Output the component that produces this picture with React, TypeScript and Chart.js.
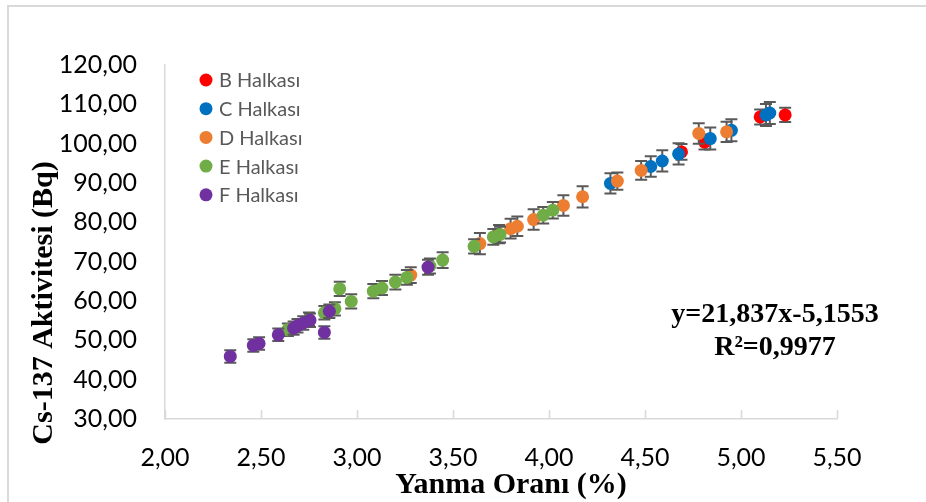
import React, { useEffect, useRef } from "react";
import { Chart, registerables } from "chart.js";

Chart.register(...registerables);

const seriesNames = ["B Halkası", "C Halkası", "D Halkası", "E Halkası", "F Halkası"];
const seriesColors = ["#FF0000", "#0070C0", "#ED7D31", "#70AD47", "#7030A0"];

const bX = [4.69, 4.81, 5.1, 5.23];
const bY = [97.9, 100.4, 106.8, 107.3];
const bErr = [2.0, 1.9, 1.9, 1.8];

const cX = [4.32, 4.53, 4.59, 4.675, 4.84, 4.95, 5.13, 5.15];
const cY = [89.9, 94.2, 95.6, 97.4, 101.3, 103.4, 107.3, 107.8];
const cErr = [2.6, 2.6, 2.7, 2.7, 2.8, 2.8, 2.8, 2.8];

const dX = [3.28, 3.64, 3.74, 3.8, 3.835, 3.92, 4.075, 4.175, 4.356, 4.48, 4.78, 4.925];
const dY = [66.6, 74.6, 77.0, 78.4, 79.0, 80.7, 84.3, 86.5, 90.5, 93.2, 102.6, 103.0];
const dErr = [2.0, 2.7, 2.3, 2.5, 2.5, 2.6, 2.6, 2.7, 2.2, 2.4, 2.6, 2.6];

const eX = [2.64, 2.75, 2.83, 2.885, 2.91, 2.97, 3.085, 3.13, 3.2, 3.26, 3.38, 3.446, 3.61, 3.71, 3.745, 3.97, 4.02];
const eY = [52.7, 55.4, 57.0, 58.0, 63.1, 59.9, 62.5, 63.3, 64.8, 66.0, 68.9, 70.4, 73.9, 76.3, 76.9, 81.8, 83.1];
const eErr = [1.6, 1.7, 1.7, 1.7, 1.8, 1.8, 1.8, 1.8, 1.9, 1.9, 1.9, 2.0, 1.8, 2.0, 2.0, 2.1, 2.1];

const fX = [2.34, 2.46, 2.49, 2.59, 2.67, 2.69, 2.72, 2.755, 2.83, 2.856, 3.37];
const fY = [45.9, 48.7, 49.2, 51.4, 53.1, 53.7, 54.4, 55.1, 52.0, 57.4, 68.6];
const fErr = [1.6, 1.6, 1.6, 1.6, 1.7, 1.7, 1.7, 1.7, 1.6, 1.7, 1.9];

const xTicks = [2.0, 2.5, 3.0, 3.5, 4.0, 4.5, 5.0, 5.5];
const yTicks = [30, 40, 50, 60, 70, 80, 90, 100, 110, 120];

const xTitle = "Yanma Oranı (%)";
const yTitle = "Cs-137 Aktivitesi (Bq)";
const eqLine1 = "y=21,837x-5,1553";
const eqLine2 = "R²=0,9977";

const allX = [bX, cX, dX, eX, fX];
const allY = [bY, cY, dY, eY, fY];
const allErr = [bErr, cErr, dErr, eErr, fErr];

const fmt = (v: number) => v.toFixed(2).replace(".", ",");

export default function App() {
  const ref = useRef<HTMLCanvasElement | null>(null);

  useEffect(() => {
    if (!ref.current) return;

    const errPlugin = {
      id: "errbars",
      beforeDatasetDraw(chart: any, args: any) {
        const ds = chart.data.datasets[args.index];
        const ys = chart.scales.y;
        const ctx = chart.ctx;
        ctx.save();
        ctx.strokeStyle = "#595959";
        ctx.lineWidth = 2;
        args.meta.data.forEach((pt: any, i: number) => {
          const d = ds.data[i];
          const e = ds.errors[i];
          const x = pt.x;
          const top = ys.getPixelForValue(d.y + e);
          const bot = ys.getPixelForValue(d.y - e);
          ctx.beginPath();
          ctx.moveTo(x, top);
          ctx.lineTo(x, bot);
          ctx.moveTo(x - 6, top);
          ctx.lineTo(x + 6, top);
          ctx.moveTo(x - 6, bot);
          ctx.lineTo(x + 6, bot);
          ctx.stroke();
        });
        ctx.restore();
      },
    };

    const decoPlugin = {
      id: "deco",
      beforeDatasetsDraw(chart: any) {
        const ctx = chart.ctx;
        const xs = chart.scales.x;
        const bottom = chart.chartArea.bottom;
        ctx.save();
        ctx.strokeStyle = "#D9D9D9";
        ctx.lineWidth = 1.5;
        xTicks.forEach((v) => {
          const px = Math.round(xs.getPixelForValue(v)) + 0.5;
          ctx.beginPath();
          ctx.moveTo(px, bottom);
          ctx.lineTo(px, bottom - 9);
          ctx.stroke();
        });
        ctx.restore();
      },
      afterDraw(chart: any) {
        const ctx = chart.ctx;
        ctx.save();
        // frame
        ctx.strokeStyle = "#D9D9D9";
        ctx.lineWidth = 2;
        ctx.strokeRect(8, 6, 1200, 1200);
        // legend
        seriesNames.forEach((name, i) => {
          const cy = 80 + i * 28.7;
          ctx.fillStyle = seriesColors[i];
          ctx.beginPath();
          ctx.arc(206, cy, 6.5, 0, Math.PI * 2);
          ctx.fill();
          ctx.fillStyle = "#595959";
          ctx.font = "20px Lato";
          ctx.textAlign = "left";
          ctx.textBaseline = "middle";
          ctx.fillText(name, 219, cy + 1);
        });
        // equation
        ctx.fillStyle = "#000";
        ctx.font = "bold 28px 'Liberation Serif'";
        ctx.textAlign = "center";
        ctx.textBaseline = "alphabetic";
        ctx.fillText(eqLine1, 775, 322);
        ctx.fillText(eqLine2, 775, 355);
        // x title
        ctx.font = "bold 30px 'Liberation Serif'";
        ctx.fillText(xTitle, 511, 493);
        // y title
        ctx.translate(51.5, 303);
        ctx.rotate(-Math.PI / 2);
        ctx.fillText(yTitle, 0, 0);
        ctx.restore();
      },
    };

    const datasets = seriesNames.map((name, i) => ({
      label: name,
      data: allX[i].map((x, j) => ({ x, y: allY[i][j] })),
      errors: allErr[i],
      backgroundColor: seriesColors[i],
      borderColor: seriesColors[i],
      borderWidth: 0,
      pointRadius: 6.5,
      pointHoverRadius: 6.5,
      order: seriesNames.length - i,
    }));

    const chart = new Chart(ref.current, {
      type: "scatter",
      data: { datasets } as any,
      options: {
        animation: false,
        responsive: false,
        devicePixelRatio: 1,
        layout: { padding: { left: 0, top: 65, right: 89, bottom: 0 } },
        plugins: { legend: { display: false }, tooltip: { enabled: false } },
        scales: {
          x: {
            type: "linear",
            min: 2,
            max: 5.5,
            afterBuildTicks: (scale: any) => {
              scale.ticks = xTicks.map((v) => ({ value: v }));
            },
            afterFit: (scale: any) => {
              scale.height = 83;
            },
            grid: { display: true, drawOnChartArea: false, drawTicks: false },
            border: { display: true, color: "#D9D9D9", width: 1.5 },
            ticks: {
              padding: 24,
              color: "#000",
              font: { family: "Lato", size: 25 },
              callback: (v: any) => fmt(Number(v)),
            },
          },
          y: {
            type: "linear",
            min: 30,
            max: 120,
            afterBuildTicks: (scale: any) => {
              scale.ticks = yTicks.map((v) => ({ value: v }));
            },
            afterFit: (scale: any) => {
              scale.width = 165;
            },
            grid: { display: true, drawOnChartArea: false, drawTicks: false },
            border: { display: true, color: "#D9D9D9", width: 1.5 },
            ticks: {
              padding: 28,
              color: "#000",
              font: { family: "Lato", size: 25 },
              callback: (v: any) => fmt(Number(v)),
            },
          },
        },
      } as any,
      plugins: [errPlugin, decoPlugin],
    });

    return () => chart.destroy();
  }, []);

  return (
    <div style={{ position: "fixed", left: 0, top: 0, width: 926, height: 502, background: "#fff" }}>
      <canvas ref={ref} width={926} height={502} style={{ width: 926, height: 502 }} />
    </div>
  );
}
